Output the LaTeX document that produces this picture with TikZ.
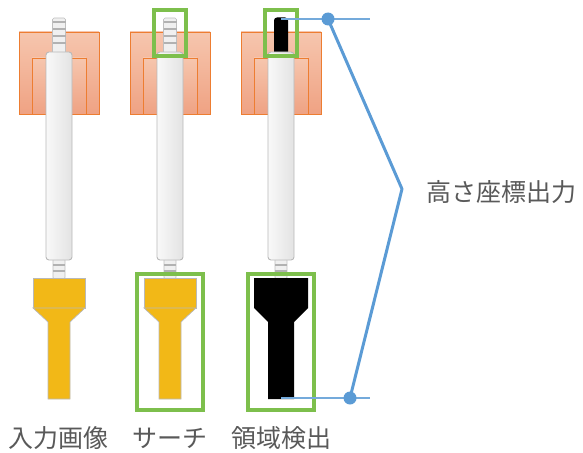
\documentclass[tikz,border=0pt]{standalone}
\usepackage{fontspec}
\setmainfont{Noto Sans CJK JP}

\definecolor{holder}{HTML}{ED7D31}
\definecolor{holdtop}{HTML}{F6C6AE}
\definecolor{holdbot}{HTML}{EFA283}
\definecolor{tipyel}{HTML}{F2B817}
\definecolor{boxgrn}{HTML}{7DBF4C}
\definecolor{outblue}{HTML}{5B9BD5}
\definecolor{txtgray}{HTML}{595959}

\tikzset{
  holderbox/.style={draw=holder, line width=.9pt, top color=holdtop, bottom color=holdbot},
  shaftbar/.style={draw=gray!55, line width=.9pt, left color=gray!5, right color=gray!22, rounded corners=3pt},
  pinpart/.style={draw=gray!50, fill=gray!12, line width=.6pt, rounded corners=1.5pt},
  pinline/.style={draw=gray!60, line width=1.3pt},
  tipyellow/.style={draw=gray!55, fill=tipyel, line width=.7pt},
  findbox/.style={draw=boxgrn, line width=3.2pt},
  heightline/.style={draw=outblue, line width=3pt},
  guideline/.style={draw=outblue!85, line width=1.2pt},
  enddot/.style={circle, fill=outblue, inner sep=0pt, minimum size=13pt},
  toollabel/.style={text=txtgray, font=\fontsize{25}{30}\selectfont, inner sep=0pt},
}

\begin{document}
\begin{tikzpicture}[x=1pt,y=-1pt]
  \useasboundingbox (0,0) rectangle (583,452);

  % holders and pins of the three tools
  \foreach \c in {59,170,281} {
    \draw[holderbox] (\c-40,32) rectangle (\c+40,114);
    \draw[holderbox] (\c-27,58) rectangle (\c+27,114);
    \draw[pinpart] (\c-6.5,18) rectangle (\c+6.5,54);
    \foreach \s in {22,29,36,43} \draw[pinline] (\c-6.5,\s) -- (\c+6.5,\s);
    \draw[pinpart] (\c-6,256) rectangle (\c+6,279);
    \foreach \s in {265,271} \draw[pinline] (\c-6,\s) -- (\c+6,\s);
  }
  % detected upper region
  \fill[black, rounded corners=3pt] (274,17.5) rectangle (288,56);

  % shafts
  \foreach \c in {59,170,281}
    \draw[shaftbar] (\c-13,52) rectangle (\c+13,260);

  % tips
  \foreach \c in {59,170} {
    \draw[tipyellow] (\c-26,278) rectangle (\c+26,308);
    \draw[tipyellow] (\c-26,308) -- (\c+26,308) -- (\c+11,322) -- (\c+11,399)
      -- (\c-11,399) -- (\c-11,322) -- cycle;
  }
  \fill[black] (254,278) -- (308,278) -- (308,308) -- (294,322) -- (294,399)
    -- (268,399) -- (268,322) -- (254,308) -- cycle;

  % search boxes
  \foreach \c in {170,281} {
    \draw[findbox] (\c-16,10) rectangle (\c+16,56);
    \draw[findbox] (\c-33,274) rectangle (\c+33,410);
  }

  % height output
  \coordinate (gtl) at (281,19);
  \coordinate (gtr) at (370,19);
  \coordinate (gbl) at (281,398);
  \coordinate (gbr) at (370,398);
  \coordinate (tip) at (402,189);
  \draw[guideline] (gtl) -- (gtr);
  \draw[guideline] (gbl) -- (gbr);
  \node[enddot] (htop) at (328,19) {};
  \node[enddot] (hbot) at (350,398) {};
  \draw[heightline, line join=round] (htop.center) -- (tip) -- (hbot.center);
  \node[toollabel, anchor=west] (out) at (426,192) {高さ座標出力};

  \node[toollabel] (l1) at (59,438) {入力画像};
  \node[toollabel] (l2) at (170,438) {サーチ};
  \node[toollabel] (l3) at (281,438) {領域検出};
\end{tikzpicture}
\end{document}
